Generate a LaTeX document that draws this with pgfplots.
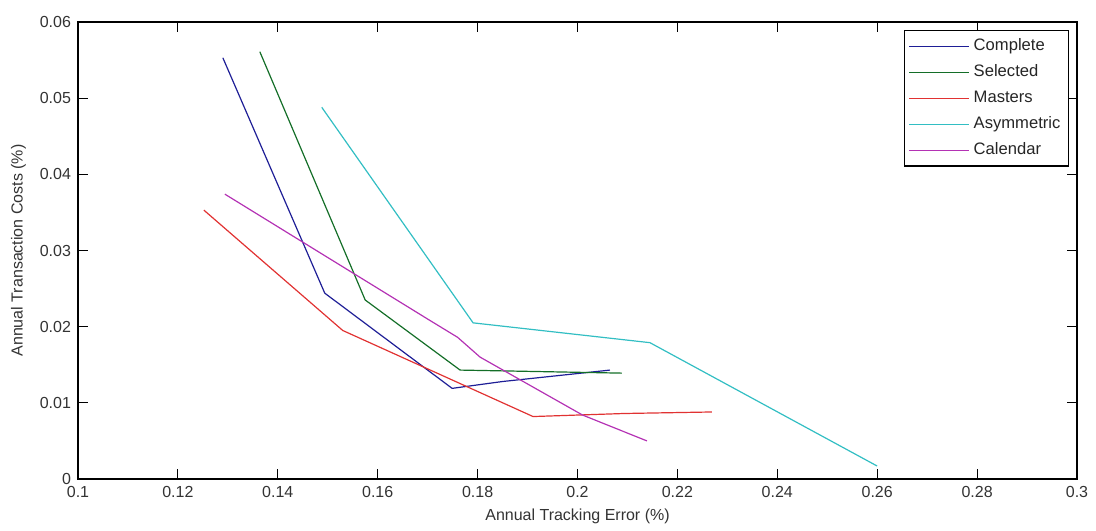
\documentclass[border=0pt]{standalone}
\usepackage{pgfplots}
\pgfplotsset{compat=1.18}
\usepackage{fontspec}
\setmainfont{Liberation Sans}

\definecolor{mcomplete}{RGB}{30,30,150}
\definecolor{mselected}{RGB}{20,110,40}
\definecolor{mmasters}{RGB}{225,50,50}
\definecolor{masym}{RGB}{50,190,195}
\definecolor{mcal}{RGB}{180,50,180}

\begin{document}
\begin{tikzpicture}
\begin{axis}[
    name=ax,
    scale only axis,
    width=499.5pt, height=228.5pt,
    xmin=0.1, xmax=0.3, ymin=0, ymax=0.06,
    xtick={0.1,0.12,...,0.3},
    ytick={0,0.01,...,0.06},
    scaled ticks=false,
    xticklabel style={/pgf/number format/fixed, /pgf/number format/precision=2},
    yticklabel style={/pgf/number format/fixed, /pgf/number format/precision=2},
    /pgf/number format/assume math mode=true,
    tick align=inside,
    major tick length=5pt,
    tick style={black, line width=0.5pt},
    axis line style={line width=0.6pt},
    ticklabel style={font=\fontsize{8}{9}\selectfont, text=black!80},
    label style={font=\fontsize{8}{9}\selectfont, text=black!80},
    xlabel={Annual Tracking Error (\%)},
    ylabel={Annual Transaction Costs (\%)},
    xlabel style={yshift=1pt},
    ylabel style={yshift=0pt},
    legend cell align=left,
    legend style={at={(0.992,0.9825)}, anchor=north east, draw=black,
        line width=0.6pt, font=\fontsize{8.3}{9}\selectfont, text=black!85,
        inner sep=2pt, row sep=1.6pt},
    legend image code/.code={\draw[#1] (0pt,0pt) -- (30pt,0pt);},
    every axis plot/.append style={line width=0.6pt},
]
\addplot[mcomplete] coordinates {
    (0.1290,0.0553) (0.1494,0.0244) (0.1749,0.0119) (0.1850,0.0128) (0.2065,0.0143)
};
\addplot[mselected] coordinates {
    (0.1364,0.0561) (0.1575,0.0235) (0.1765,0.0143) (0.2089,0.0139)
};
\addplot[mmasters] coordinates {
    (0.1252,0.0353) (0.1530,0.0195) (0.1911,0.0082) (0.2093,0.0086) (0.2269,0.0088)
};
\addplot[masym] coordinates {
    (0.1488,0.0488) (0.1791,0.0205) (0.2145,0.0179) (0.2600,0.0017)
};
\addplot[mcal] coordinates {
    (0.1294,0.0374) (0.1700,0.0210) (0.1760,0.0186) (0.1805,0.0160) (0.2010,0.0084) (0.2139,0.0050)
};
\legend{Complete, Selected, Masters, Asymmetric, Calendar}
\end{axis}
\pgfresetboundingbox
\path[use as bounding box] ([xshift=-39pt,yshift=-25.5pt]ax.south west)
    rectangle ([xshift=9.5pt,yshift=11pt]ax.north east);
\end{tikzpicture}
\end{document}
